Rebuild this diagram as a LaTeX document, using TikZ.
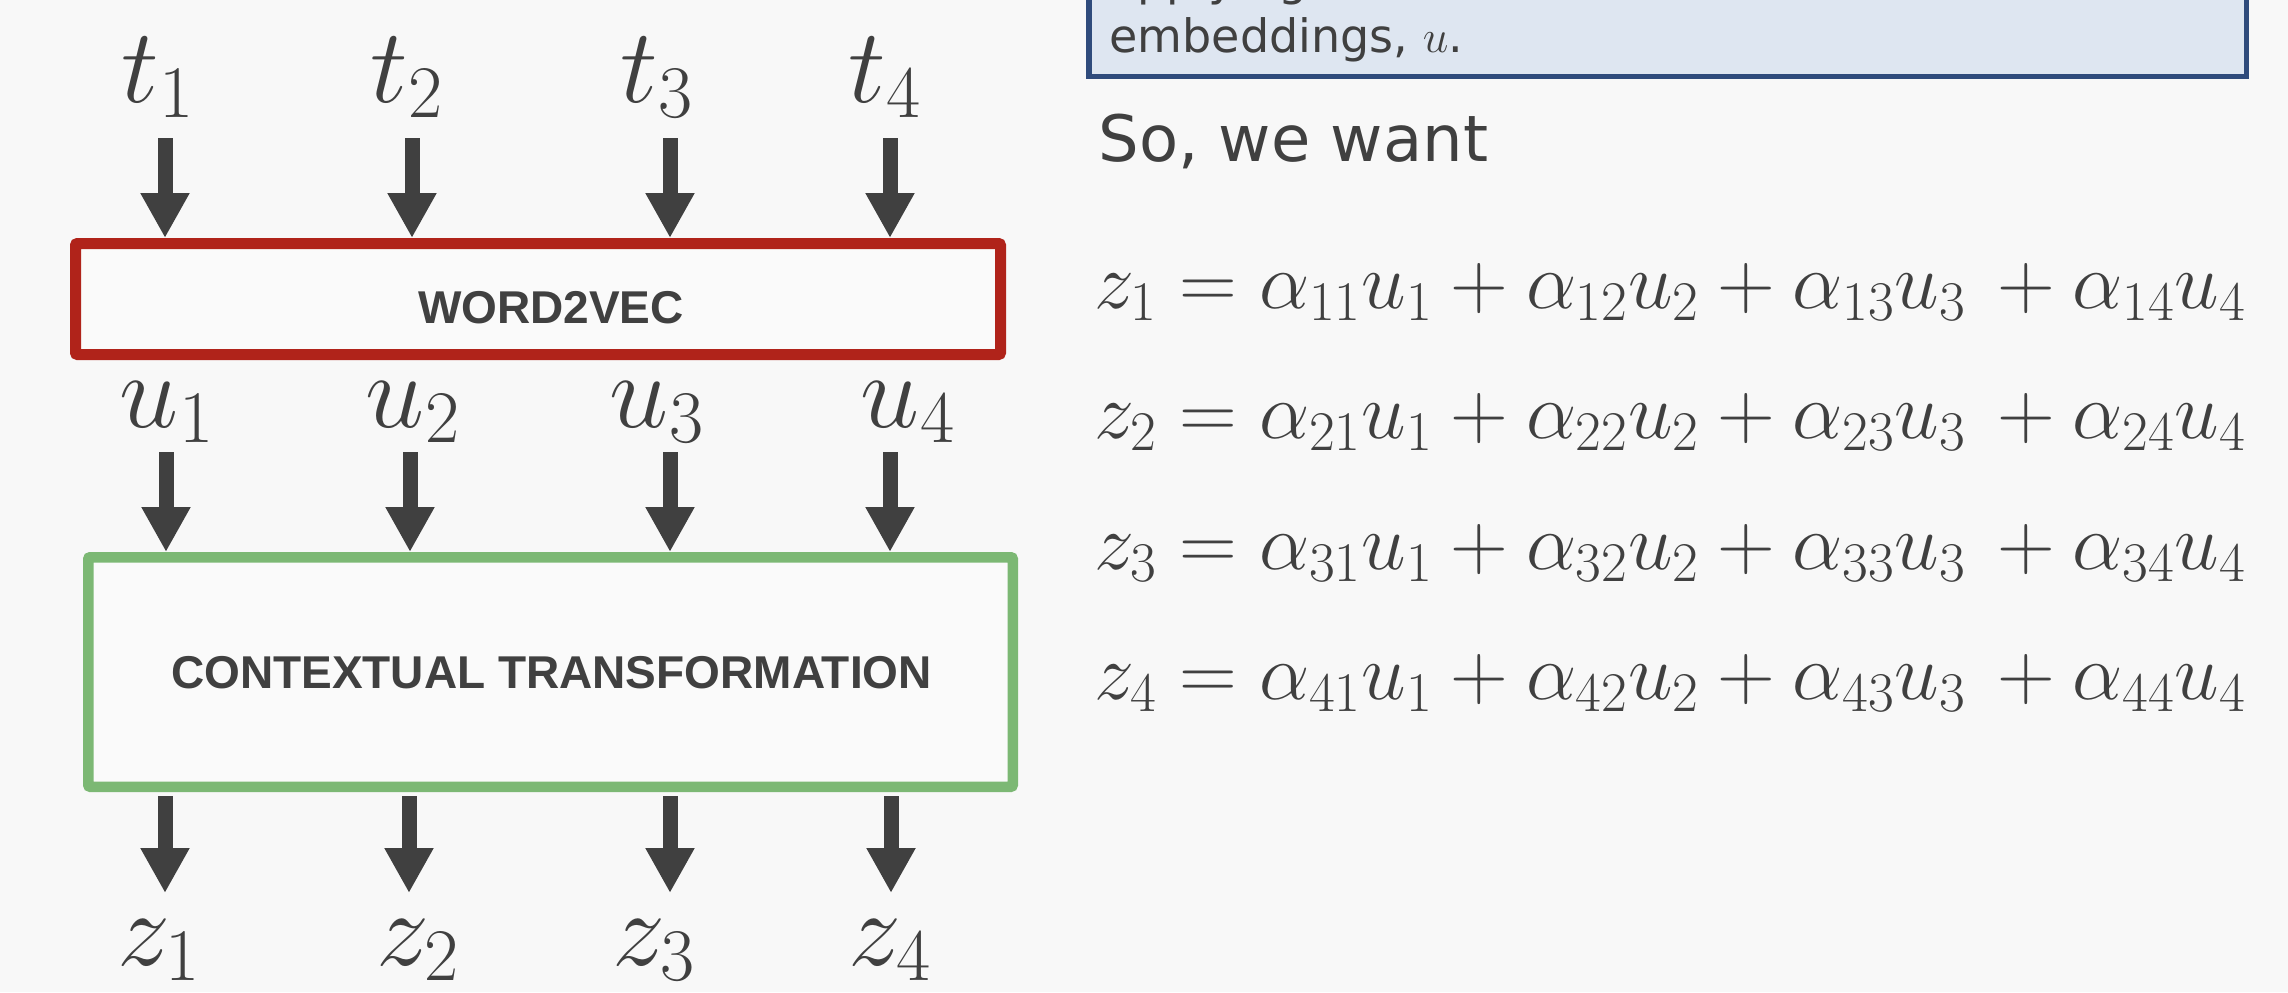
\RequirePackage{fix-cm}
\documentclass[tikz,border=0pt]{standalone}
\usepackage{fontspec}
\newfontfamily\bodyfont{DejaVu Sans}
\newfontfamily\boxfont{Liberation Sans}
\usetikzlibrary{arrows.meta,shadows}
\definecolor{bg}{HTML}{F8F8F8}
\definecolor{txt}{HTML}{404040}
\definecolor{redbox}{HTML}{B0231A}
\definecolor{greenbox}{HTML}{7CB874}
\definecolor{notefill}{HTML}{DEE6F1}
\definecolor{noteline}{HTML}{2F4B7C}
\definecolor{boxfill}{HTML}{FAFAFA}
\tikzset{
  arr/.style={draw=txt, line width=7.5pt, -{Triangle[width=23pt,length=22.5pt]}},
  lbl/.style={anchor=base, inner sep=0pt, text=txt, font=\fontsize{53}{60}\selectfont},
  eqn/.style={anchor=base west, inner sep=0pt, text=txt, font=\fontsize{40}{46}\selectfont},
  boxtext/.style={anchor=base, inner sep=0pt, text=txt, font=\boxfont\bfseries\fontsize{23}{28}\selectfont},
  bodytext/.style={anchor=base west, inner sep=0pt, text=txt},
  procbox/.style={rectangle, fill=boxfill, inner sep=0pt, rounded corners=1pt,
    drop shadow={shadow xshift=0.8pt, shadow yshift=-1.2pt, opacity=0.25}},
}
\begin{document}
\begin{tikzpicture}[x=0.5pt,y=-0.5pt]
\useasboundingbox (0,0) rectangle (2288,992);
\clip (0,0) rectangle (2288,992);
\fill[bg] (0,0) rectangle (2288,992);

% note box at top right (cut by the top edge)
\node[draw=noteline, fill=notefill, line width=2.75pt, inner sep=0pt, anchor=south west,
      minimum width=578.75pt, minimum height=100pt] (note) at (1086,79) {};
\node[bodytext, font=\bodyfont\fontsize{23}{28}\selectfont] (noteA) at (1109,-5) {applying};
\node[bodytext, font=\bodyfont\fontsize{23}{28}\selectfont] (noteB) at (1109,52) {embeddings, $u$.};

% inputs t
\node[lbl] (t1) at (158,102) {$t_1$};
\node[lbl] (t2) at (407,102) {$t_2$};
\node[lbl] (t3) at (657,102) {$t_3$};
\node[lbl] (t4) at (885,102) {$t_4$};

% word2vec box
\node[procbox, draw=redbox, line width=5.5pt, minimum width=462.5pt, minimum height=55.5pt] (w2v) at (538,299) {};
\node[boxtext] (w2vlbl) at (551,323) {WORD2VEC};

% embeddings u
\node[lbl] (u1) at (167,427) {$u_1$};
\node[lbl] (u2) at (413,427) {$u_2$};
\node[lbl] (u3) at (657,427) {$u_3$};
\node[lbl] (u4) at (908,427) {$u_4$};

% contextual transformation box
\node[procbox, draw=greenbox, line width=5.25pt, minimum width=462.25pt, minimum height=114.75pt] (ctx) at (550.5,672) {};
\node[boxtext] (ctxlbl) at (551.5,688) {CONTEXTUAL TRANSFORMATION};

% outputs z
\node[lbl] (z1) at (159,965) {$z_1$};
\node[lbl] (z2) at (418,965) {$z_2$};
\node[lbl] (z3) at (654,965) {$z_3$};
\node[lbl] (z4) at (890,965) {$z_4$};

% arrow coordinates
\coordinate (a1) at (165,138);
\coordinate (a2) at (412,138);
\coordinate (a3) at (670,138);
\coordinate (a4) at (890,138);
\coordinate (b1) at (166,452);
\coordinate (b2) at (410,452);
\coordinate (b3) at (670,452);
\coordinate (b4) at (890,452);
\coordinate (c1) at (165,893);
\coordinate (c2) at (409,893);
\coordinate (c3) at (670,893);
\coordinate (c4) at (891,893);

\foreach \i in {1,2,3,4}{
  \draw[arr] (a\i) -- (a\i |- w2v.north);
  \draw[arr] (b\i) -- (b\i |- ctx.north);
  \draw[arr] ([yshift=-2pt]c\i |- ctx.south) -- (c\i);
}

% right-hand text
\node[bodytext, font=\bodyfont\fontsize{32}{38}\selectfont] (want) at (1098,161) {So, we want};
\node[eqn] (eq1) at (1094,308) {$z_1 = \alpha_{11}u_1 + \alpha_{12}u_2 + \alpha_{13}u_3\,+ \alpha_{14}u_4$};
\node[eqn] (eq2) at (1094,438) {$z_2 = \alpha_{21}u_1 + \alpha_{22}u_2 + \alpha_{23}u_3\,+ \alpha_{24}u_4$};
\node[eqn] (eq3) at (1094,569) {$z_3 = \alpha_{31}u_1 + \alpha_{32}u_2 + \alpha_{33}u_3\,+ \alpha_{34}u_4$};
\node[eqn] (eq4) at (1094,699) {$z_4 = \alpha_{41}u_1 + \alpha_{42}u_2 + \alpha_{43}u_3\,+ \alpha_{44}u_4$};
\end{tikzpicture}
\end{document}
